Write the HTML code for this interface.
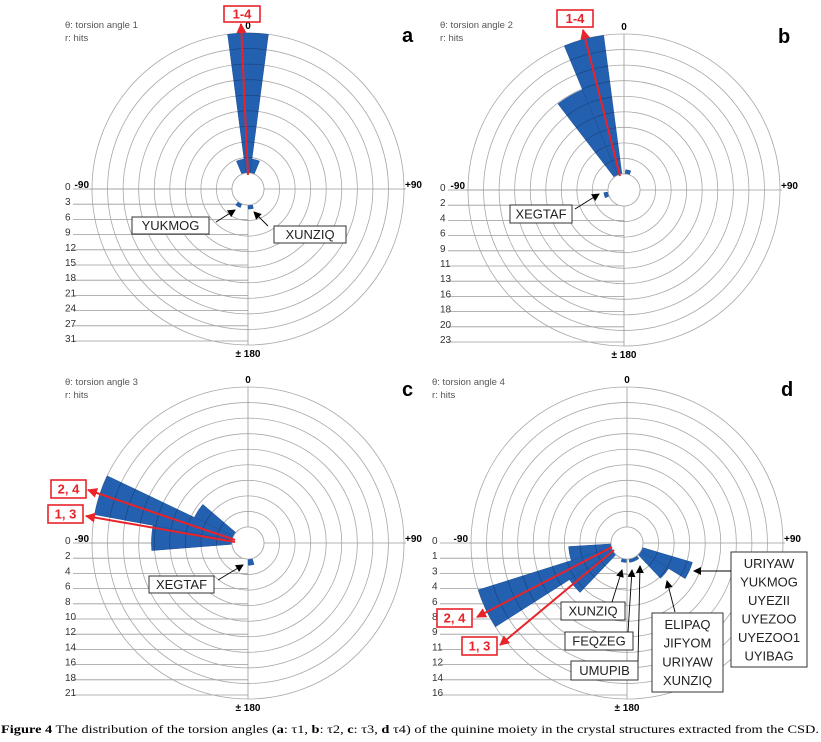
<!DOCTYPE html>
<html><head><meta charset="utf-8">
<style>
html,body{margin:0;padding:0;background:#fff;}
svg{display:block;font-family:"Liberation Sans",sans-serif;}
</style></head>
<body>
<svg id="fig" width="821" height="742" viewBox="0 0 821 742" xmlns="http://www.w3.org/2000/svg">
<defs>
<marker id="ah" markerWidth="8" markerHeight="8" refX="7" refY="4" orient="auto" markerUnits="userSpaceOnUse"><path d="M0,0 L8,4 L0,8 z" fill="#000"/></marker>
<marker id="ahr" markerWidth="10" markerHeight="10" refX="9" refY="5" orient="auto" markerUnits="userSpaceOnUse"><path d="M0,0 L10,5 L0,10 z" fill="#e8232a"/></marker>
</defs>
<g id="layer-grid"></g>
<g id="layer-bars"></g>
<g id="layer-top"></g>
<text x="1" y="733" font-family="Liberation Serif, serif" font-size="12" textLength="818" lengthAdjust="spacingAndGlyphs"><tspan font-weight="bold">Figure 4</tspan> The distribution of the torsion angles (<tspan font-weight="bold">a</tspan>: τ1, <tspan font-weight="bold">b</tspan>: τ2, <tspan font-weight="bold">c</tspan>: τ3, <tspan font-weight="bold">d</tspan> τ4) of the quinine moiety in the crystal structures extracted from the CSD.</text>
</svg>
<script>
// Panel a data
const aBinCenters = [0, -15, 15, -150, 172];
const aHits = [31, 6, 6, 4, 4];
const aTicks = ["0","3","6","9","12","15","18","21","24","27","31"];
// Panel b data
const bBinCenters = [-15, -30, 12, -105];
const bHits = [23, 16, 3, 3];
const bTicks = ["0","2","4","6","9","11","13","16","18","20","23"];
// Panel c data
const cBinCenters = [-87, -72, -57, 172];
const cHits = [13, 21, 8, 3];
const cTicks = ["0","2","4","6","8","10","12","14","16","18","21"];
// Panel d data
const dBinCenters = [-101, -129, -115, 114, 129, -170, 165, 150];
const dHits = [6, 7, 16, 7, 5, 2, 2, 2];
const dTicks = ["0","1","3","4","6","8","9","11","12","14","16"];

const NS = "http://www.w3.org/2000/svg";
const gridL = document.getElementById('layer-grid');
const barsL = document.getElementById('layer-bars');
const topL = document.getElementById('layer-top');
function mk(tag, attrs, parent, txt){
  const e = document.createElementNS(NS, tag);
  for (const k in attrs) e.setAttribute(k, attrs[k]);
  if (txt !== undefined) e.textContent = txt;
  parent.appendChild(e);
  return e;
}
const R = 156, HOLE = 16, BINW = 15;

const panels = [
  {id:'a', cx:248, cy:189, bins:aBinCenters, hits:aHits, ticks:aTicks, labX:65, title:'θ: torsion angle 1', tx:65, ty:28},
  {id:'b', cx:624, cy:190, bins:bBinCenters, hits:bHits, ticks:bTicks, labX:440, title:'θ: torsion angle 2', tx:440, ty:28},
  {id:'c', cx:248, cy:543, bins:cBinCenters, hits:cHits, ticks:cTicks, labX:65, title:'θ: torsion angle 3', tx:65, ty:385},
  {id:'d', cx:627, cy:543, bins:dBinCenters, hits:dHits, ticks:dTicks, labX:432, title:'θ: torsion angle 4', tx:432, ty:385}
];

panels.forEach(p => {
  const vmax = parseFloat(p.ticks[p.ticks.length-1]);
  const rScale = v => v / vmax * R;
  const pt = (ang, r) => [p.cx + r*Math.sin(ang*Math.PI/180), p.cy - r*Math.cos(ang*Math.PI/180)];
  const g = mk('g', {}, gridL);
  
  
  p.ticks.forEach((t, k) => {
    const y = p.cy + k * (R - 4) / 10;
    const ln = mk('line', {x1:p.labX+8, y1:y, x2:p.cx, y2:y, stroke:'#9a9a9a', 'stroke-width':0.8}, g);
    
    
    const tl = mk('text', {x:p.labX, y:y+1, 'font-size':10, fill:'#333'}, g, t);
    
    
  });
  for (let k = 0; k < 10; k++) {
    const r = HOLE + k * (R - HOLE) / 9;
    const c = mk('circle', {cx:p.cx, cy:p.cy, r:r, fill:'none', stroke:'#a8a8a8', 'stroke-width':0.8}, g);
    
    
  }
  const ax1 = mk('line', {x1:p.cx, y1:p.cy-R, x2:p.cx, y2:p.cy+R, stroke:'#9a9a9a', 'stroke-width':0.8}, g);
  
  
  const ax2 = mk('line', {x1:p.cx-R-2, y1:p.cy, x2:p.cx+R+2, y2:p.cy, stroke:'#9a9a9a', 'stroke-width':0.8}, g);
  
  
  const l0 = mk('text', {x:p.cx, y:p.cy-R-4, 'font-size':10, 'font-weight':'bold', 'text-anchor':'middle'}, g, '0');
  
  
  const l1 = mk('text', {x:p.cx-R-3, y:p.cy-1, 'font-size':10, 'font-weight':'bold', 'text-anchor':'end'}, g, '-90');
  
  
  const l2 = mk('text', {x:p.cx+R+1, y:p.cy-1, 'font-size':10, 'font-weight':'bold'}, g, '+90');
  
  
  const l3 = mk('text', {x:p.cx, y:p.cy+R+12, 'font-size':10, 'font-weight':'bold', 'text-anchor':'middle'}, g, '± 180');
  
  
  const t1 = mk('text', {x:p.tx, y:p.ty, 'font-size':9.5, fill:'#555'}, g, p.title);
  
  
  const t2 = mk('text', {x:p.tx, y:p.ty+13, 'font-size':9.5, fill:'#555'}, g, 'r: hits');
  
  
  const pl = mk('text', {x:p.cx+R-2, y:p.cy-R+9, 'font-size':20, 'font-weight':'bold'}, g, p.id);
  
  
  p.bins.forEach((b, i) => {
    const r = rScale(p.hits[i]);
    const a0 = b - BINW/2, a1 = b + BINW/2;
    const P0 = pt(a0, r), P1 = pt(a1, r);
    const d = `M${p.cx},${p.cy} L${P0[0]},${P0[1]} A${r},${r} 0 0 1 ${P1[0]},${P1[1]} Z`;
    const bar = mk('path', {d:d, fill:'#2360b0', stroke:'#1c4f95', 'stroke-width':0.5}, barsL);
    
    
    for (let k = 1; k < 10; k++) {
      const rr = HOLE + k * (R - HOLE) / 9;
      if (rr < r - 1) {
        const Q0 = pt(a0, rr), Q1 = pt(a1, rr);
        const arc = mk('path', {d:`M${Q0[0]},${Q0[1]} A${rr},${rr} 0 0 1 ${Q1[0]},${Q1[1]}`, fill:'none', stroke:'#1a3f75', 'stroke-width':0.6}, barsL);
        
        
      }
    }
  });
  const hole = mk('circle', {cx:p.cx, cy:p.cy, r:HOLE, fill:'#fff', stroke:'#a8a8a8', 'stroke-width':0.8}, barsL);
  
  
});

function box(x, y, w, h, lines, name, red){
  const g = mk('g', {}, topL);
  
  
  mk('rect', {x:x, y:y, width:w, height:h, fill:'#fff', stroke: red ? '#e8232a' : '#333', 'stroke-width': red ? 1.6 : 1}, g);
  const lh = (h - 4) / lines.length;
  lines.forEach((l, i) => {
    mk('text', {x:x + w/2, y:y + 2 + lh*(i+0.5) + 4.5, 'font-size':13, 'font-weight': red ? 'bold' : 'normal', fill: red ? '#e8232a' : '#222', 'text-anchor':'middle'}, g, l);
  });
}
function arrow(x1, y1, x2, y2, name, red){
  const a = mk('line', {x1:x1, y1:y1, x2:x2, y2:y2, stroke: red ? '#e8232a' : '#000', 'stroke-width': red ? 2 : 0.9, 'marker-end': red ? 'url(#ahr)' : 'url(#ah)'}, topL);
  
  
}
// panel a
arrow(248, 175, 241, 24, 'arrow-a-1-4', true);
box(224, 6, 36, 16, ['1-4'], 'label-box-a-1-4', true);
box(132, 217, 77, 17, ['YUKMOG'], 'label-box-yukmog');
arrow(216, 222, 235, 210, 'arrow-yukmog');
box(274, 226, 72, 17, ['XUNZIQ'], 'label-box-xunziq-a');
arrow(268, 226, 254, 212, 'arrow-xunziq-a');
// panel b
arrow(620, 176, 583, 30, 'arrow-b-1-4', true);
box(557, 10, 36, 17, ['1-4'], 'label-box-b-1-4', true);
box(510, 205, 62, 18, ['XEGTAF'], 'label-box-xegtaf-b');
arrow(575, 209, 599, 194, 'arrow-xegtaf-b');
// panel c
arrow(235, 540, 88, 490, 'arrow-c-2-4', true);
arrow(235, 542, 86, 516, 'arrow-c-1-3', true);
box(51, 480, 35, 18, ['2, 4'], 'label-box-c-2-4', true);
box(48, 505, 35, 18, ['1, 3'], 'label-box-c-1-3', true);
box(149, 576, 65, 17, ['XEGTAF'], 'label-box-xegtaf-c');
arrow(218, 580, 243, 565, 'arrow-xegtaf-c');
// panel d
arrow(612, 547, 477, 617, 'arrow-d-2-4', true);
arrow(614, 550, 500, 645, 'arrow-d-1-3', true);
box(437, 609, 35, 18, ['2, 4'], 'label-box-d-2-4', true);
box(462, 637, 35, 18, ['1, 3'], 'label-box-d-1-3', true);
box(561, 602, 64, 18, ['XUNZIQ'], 'label-box-xunziq-d');
arrow(612, 602, 622, 570, 'arrow-xunziq-d');
box(565, 632, 68, 18, ['FEQZEG'], 'label-box-feqzeg');
arrow(628, 632, 632, 570, 'arrow-feqzeg');
box(571, 661, 67, 19, ['UMUPIB'], 'label-box-umupib');
arrow(638, 661, 640, 566, 'arrow-umupib');
box(652, 613, 71, 79, ['ELIPAQ','JIFYOM','URIYAW','XUNZIQ'], 'label-box-elipaq-group');
arrow(675, 612, 667, 581, 'arrow-elipaq-group');
box(731, 552, 76, 115, ['URIYAW','YUKMOG','UYEZII','UYEZOO','UYEZOO1','UYIBAG'], 'label-box-uriyaw-group');
arrow(731, 571, 694, 571, 'arrow-uriyaw-group');
</script>
</body></html>
